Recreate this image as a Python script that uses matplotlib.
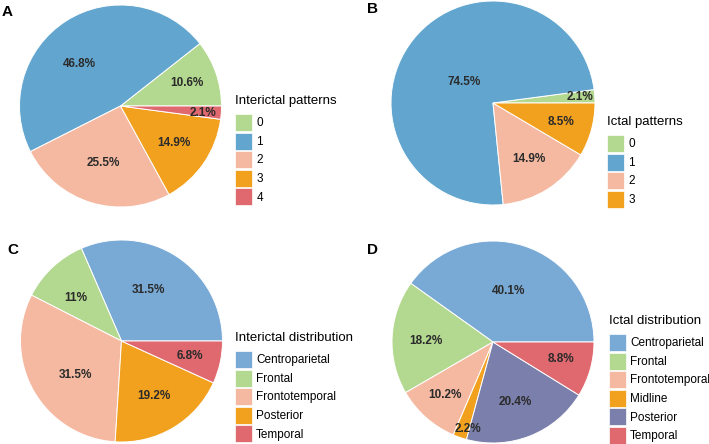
import matplotlib.pyplot as plt
import numpy as np

plt.rcParams['font.family'] = ['Liberation Sans', 'DejaVu Sans']

# data
a_cats = ['0', '1', '2', '3', '4']
a_vals = [10.6, 46.8, 25.5, 14.9, 2.1]
a_text = ['10.6%', '46.8%', '25.5%', '14.9%', '2.1%']

b_cats = ['0', '1', '2', '3']
b_vals = [2.1, 74.5, 14.9, 8.5]
b_text = ['2.1%', '74.5%', '14.9%', '8.5%']

c_cats = ['Centroparietal', 'Frontal', 'Frontotemporal', 'Posterior', 'Temporal']
c_vals = [31.5, 11.0, 31.5, 19.2, 6.8]
c_text = ['31.5%', '11%', '31.5%', '19.2%', '6.8%']

d_cats = ['Centroparietal', 'Frontal', 'Frontotemporal', 'Midline', 'Posterior', 'Temporal']
d_vals = [40.1, 18.2, 10.2, 2.2, 20.4, 8.8]
d_text = ['40.1%', '18.2%', '10.2%', '2.2%', '20.4%', '8.8%']

# colours
green = '#b3d88f'
blue_ab = '#62a6cf'
blue_cd = '#79aad6'
pink = '#f5b9a2'
orange = '#f2a11f'
red = '#e0686f'
purple = '#7a7fab'

W, H = 709, 444
fig = plt.figure(figsize=(W / 100, H / 100), dpi=100)


def px_axes(cx, cy, r):
    return fig.add_axes([(cx - r) / W, 1 - (cy + r) / H, 2 * r / W, 2 * r / H])


def draw_pie(cx, cy, r, vals, texts, colors, lab_r, lab_dt, cats, title, leg_x, leg_y, letter, let_xy):
    ax = px_axes(cx, cy, r)
    wedges, _ = ax.pie(vals, colors=colors, startangle=0, counterclock=True,
                       wedgeprops=dict(edgecolor='white', linewidth=0.7))
    ax.set_xlim(-1, 1)
    ax.set_ylim(-1, 1)
    ax.set_aspect('equal')
    for w, t, rr, dt in zip(wedges, texts, lab_r, lab_dt):
        ang = np.deg2rad((w.theta1 + w.theta2) / 2 + dt)
        ax.text(rr * np.cos(ang), rr * np.sin(ang), t, ha='center', va='center',
                fontsize=8.5, fontweight='bold', color='#2b2b2b')
    leg = fig.legend(wedges, cats, title=title, loc='upper left',
                     bbox_to_anchor=(leg_x / W, 1 - leg_y / H), frameon=False,
                     fontsize=8.5, title_fontsize=9.5, borderpad=0, borderaxespad=0,
                     handlelength=1.45, handleheight=1.84, labelspacing=0.135,
                     handletextpad=0.35, alignment='left')
    leg._legend_box.sep = 5
    for h in leg.legend_handles:
        h.set_edgecolor('white')
        h.set_linewidth(0.5)
    fig.text(let_xy[0] / W, 1 - let_xy[1] / H, letter, fontsize=11, fontweight='bold',
             ha='left', va='top')


draw_pie(120.5, 106, 101, a_vals, a_text, [green, blue_ab, pink, orange, red],
         [0.70, 0.58, 0.59, 0.64, 0.82], [0, 12, 0, 0, -1],
         a_cats, 'Interictal patterns', 235, 95, 'A', (2, 5))

draw_pie(493, 103, 102, b_vals, b_text, [green, blue_ab, pink, orange],
         [0.85, 0.35, 0.65, 0.69], [0, 3, 0, 0],
         b_cats, 'Ictal patterns', 607, 116, 'B', (367, 2))

draw_pie(121.5, 341, 101, c_vals, c_text, [blue_cd, green, pink, orange, red],
         [0.57, 0.62, 0.57, 0.63, 0.69], [5, 4, 7, 0, 0],
         c_cats, 'Interictal distribution', 235, 332, 'C', (7, 243))

draw_pie(493, 342, 101, d_vals, d_text, [blue_cd, green, pink, orange, purple, red],
         [0.53, 0.66, 0.71, 0.90, 0.63, 0.69], [1, 2, -1, 3, -1, 2],
         d_cats, 'Ictal distribution', 609, 315, 'D', (367, 243))

fig.savefig('out.png', dpi=100)
